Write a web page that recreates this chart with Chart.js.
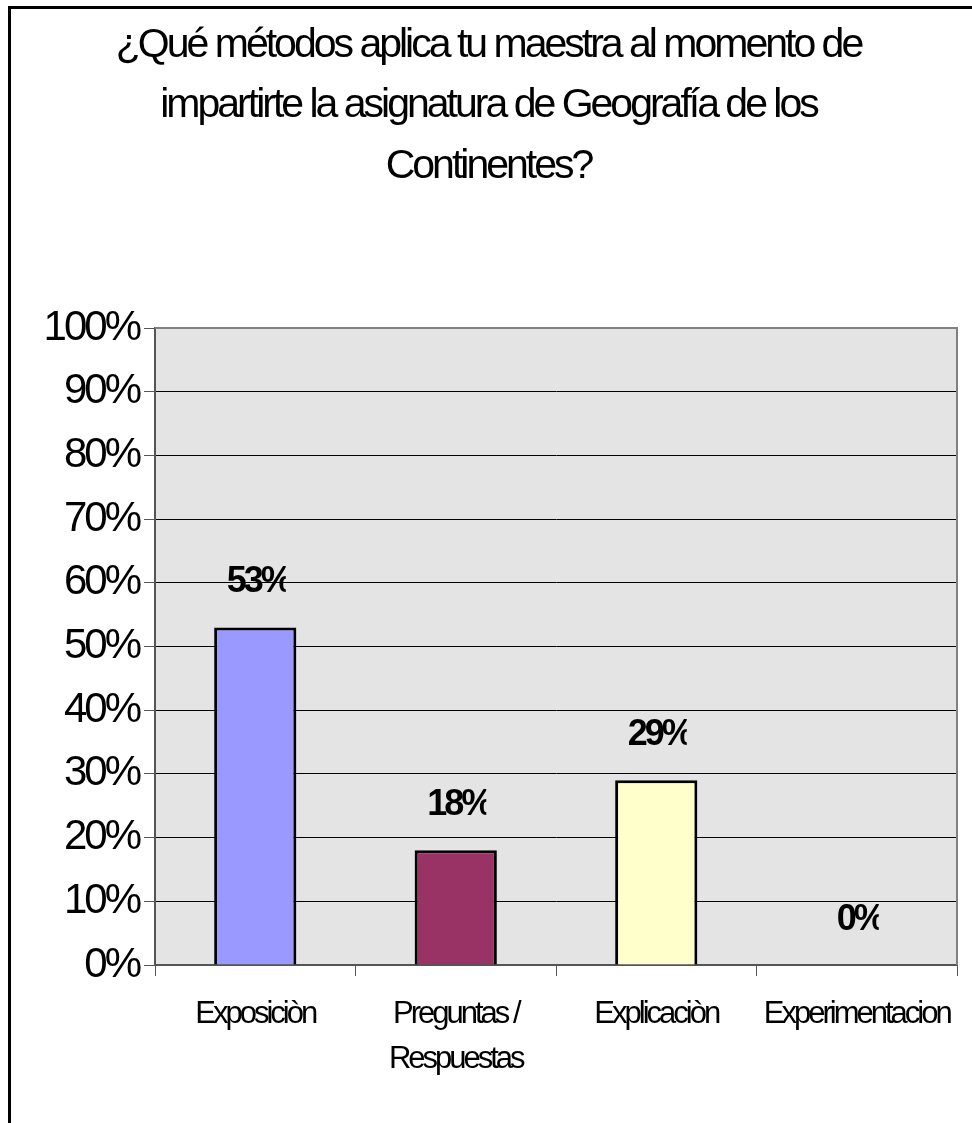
<!DOCTYPE html>
<html>
<head>
<meta charset="utf-8">
<script src="https://cdn.jsdelivr.net/npm/chart.js@4/dist/chart.umd.min.js"></script>
<style>
body{margin:0;background:#fff;overflow:hidden;}
#wrap{position:relative;width:972px;height:1123px;}
#frame{position:absolute;left:8px;top:6px;width:1000px;height:1200px;border:3px solid #000;box-sizing:border-box;}
canvas{position:absolute;left:0;top:0;}
</style>
</head>
<body>
<div id="wrap">
<div id="frame"></div>
<canvas id="chart" width="972" height="1123"></canvas>
</div>
<script>
// Data dari grafik
const titleLines = [
    "¿Qué métodos aplica tu maestra al momento de",
    "impartirte la asignatura de Geografía de los",
    "Continentes?"
];
const categories = ["Exposiciòn", ["Preguntas /", "Respuestas"], "Explicaciòn", "Experimentacion"];
const values = [53, 18, 29, 0];
const barColors = ["#9999ff", "#993366", "#ffffcc", "#ffffff"];
const yTicks = [0, 10, 20, 30, 40, 50, 60, 70, 80, 90, 100];

// Huruf dibuat rapat seperti aslinya
const tightText = {
    id: "tightText",
    beforeUpdate(chart){ chart.ctx.letterSpacing = "-3px"; },
    beforeLayout(chart){ chart.ctx.letterSpacing = "-3px"; },
    beforeDraw(chart){ chart.ctx.letterSpacing = "-3px"; }
};

// Latar area plot + bingkai
const plotBg = {
    id: "plotBg",
    beforeDraw(chart){
        const {ctx, chartArea:a} = chart;
        ctx.save();
        ctx.fillStyle = "#e4e4e4";
        ctx.fillRect(a.left, a.top, a.right - a.left, a.bottom - a.top);
        ctx.restore();
    },
    afterDraw(chart){
        const {ctx, chartArea:a} = chart;
        ctx.save();
        ctx.strokeStyle = "#808080";
        ctx.lineWidth = 2;
        ctx.beginPath();
        ctx.moveTo(a.left, a.top);
        ctx.lineTo(a.right, a.top);
        ctx.lineTo(a.right, a.bottom);
        ctx.stroke();
        ctx.restore();
    }
};

// Label persen di atas batang
const valueLabels = {
    id: "valueLabels",
    afterDatasetsDraw(chart){
        const ctx = chart.ctx;
        const meta = chart.getDatasetMeta(0);
        ctx.save();
        ctx.font = "bold 36px 'Liberation Sans', Arial, sans-serif";
        ctx.letterSpacing = "-3px";
        ctx.fillStyle = "#000";
        ctx.textAlign = "center";
        ctx.textBaseline = "middle";
        meta.data.forEach((bar, i)=>{
            const txt = values[i] + "%";
            const w = ctx.measureText(txt).width;
            const x = bar.x + 3;
            const y = bar.y - 45;
            ctx.save();
            ctx.beginPath();
            ctx.rect(x - w/2 - 10, y - 30, w + 6, 60);
            ctx.clip();
            ctx.fillText(txt, x, y);
            ctx.restore();
        });
        ctx.restore();
    }
};

new Chart(document.getElementById("chart"), {
    type: "bar",
    data: {
        labels: categories,
        datasets: [{
            data: values,
            backgroundColor: barColors,
            borderColor: "#000",
            borderWidth: 3,
            barPercentage: 0.41,
            categoryPercentage: 1
        }]
    },
    options: {
        responsive: false,
        animation: false,
        layout: { padding: { left: 20, right: 15, top: 0, bottom: 0 } },
        plugins: {
            legend: { display: false },
            tooltip: { enabled: false },
            title: {
                display: true,
                text: titleLines,
                color: "#000",
                font: { family: "'Liberation Sans', Arial, sans-serif", size: 41, weight: "normal", lineHeight: 1.48 },
                padding: { top: 15, bottom: 131 }
            }
        },
        scales: {
            x: {
                grid: { display: true, drawOnChartArea: false, color: "#555", tickLength: 11, offset: true },
                border: { color: "#555", width: 2 },
                ticks: {
                    color: "#000",
                    padding: 16,
                    maxRotation: 0,
                    autoSkip: false,
                    font: { family: "'Liberation Sans', Arial, sans-serif", size: 31, lineHeight: 1.45 }
                },
                afterFit(scale){ scale.height = 158; }
            },
            y: {
                min: 0,
                max: 100,
                afterBuildTicks(scale){ scale.ticks = yTicks.map(v=>({value:v})); },
                grid: { color: "#000", lineWidth: 1, tickLength: 11, tickColor: "#555" },
                border: { color: "#555", width: 2 },
                ticks: {
                    color: "#000",
                    padding: 5,
                    font: { family: "'Liberation Sans', Arial, sans-serif", size: 42 },
                    callback: v=>v + "%"
                },
                afterFit(scale){ scale.width = 135; }
            }
        }
    },
    plugins: [tightText, plotBg, valueLabels]
});
</script>
</body>
</html>
